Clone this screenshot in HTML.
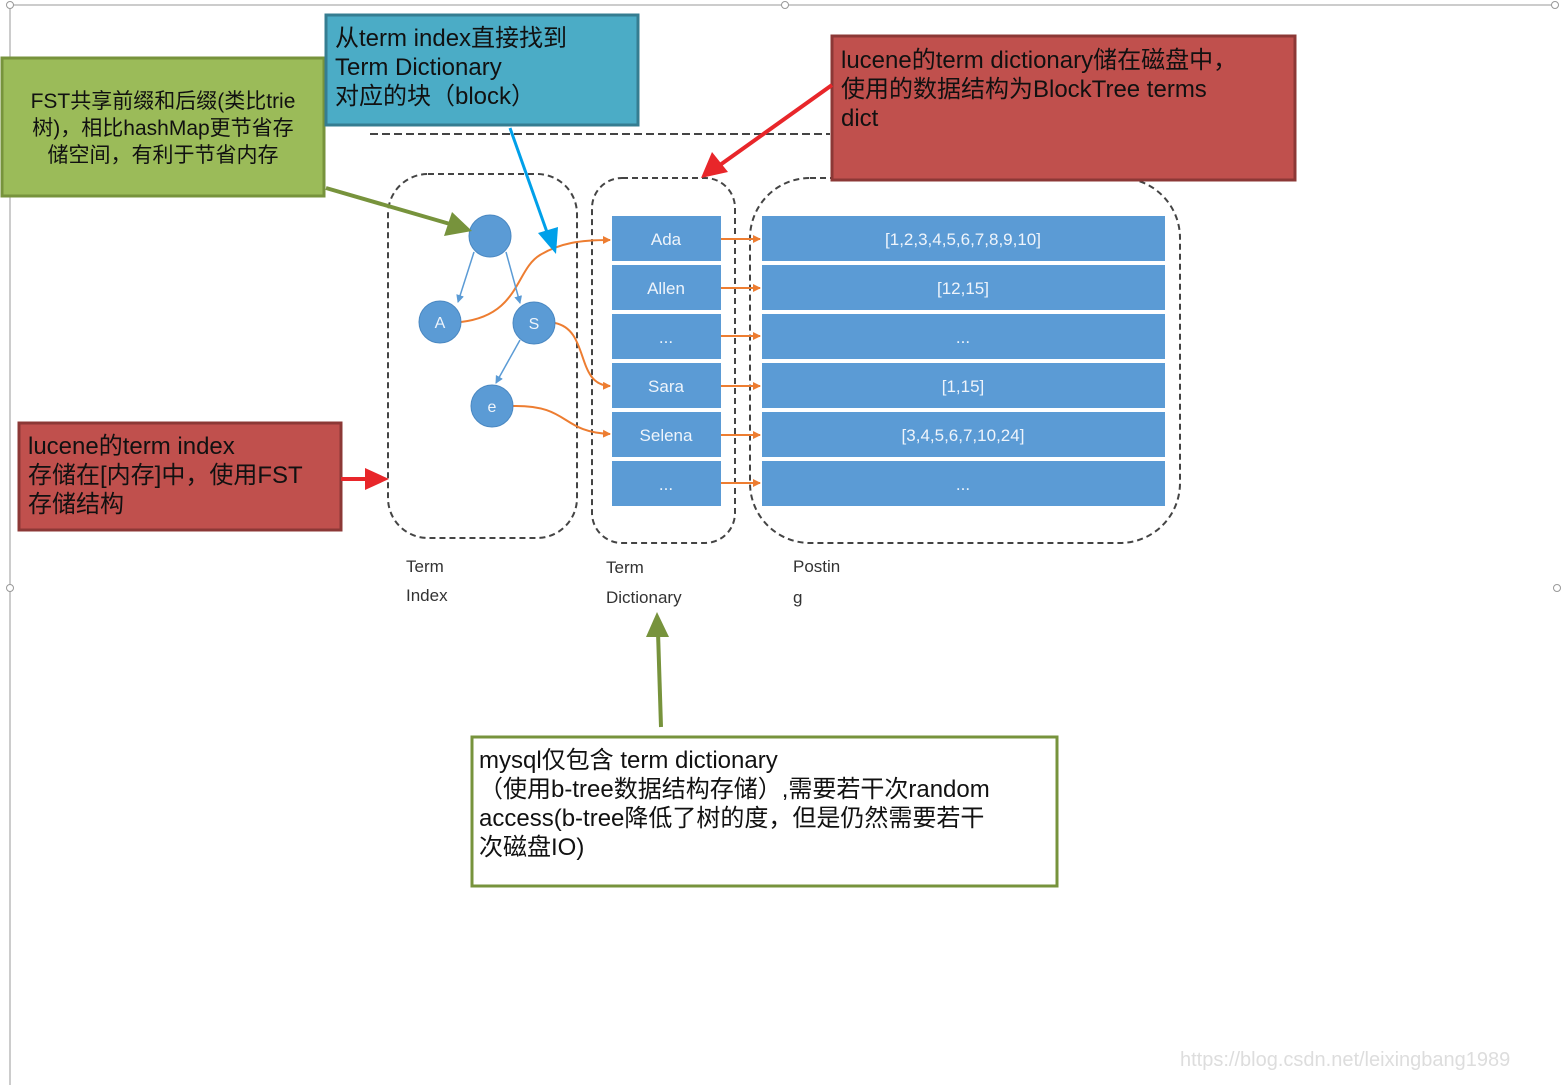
<!DOCTYPE html>
<html><head><meta charset="utf-8"><style>
body{margin:0;background:#fff;}
svg{display:block;}
text{font-family:"Liberation Sans","Noto Sans CJK SC",sans-serif;}
</style></head><body>
<svg width="1561" height="1085" viewBox="0 0 1561 1085" xmlns="http://www.w3.org/2000/svg">
<defs>
<marker id="og" markerWidth="8" markerHeight="8" refX="7" refY="4" orient="auto" markerUnits="userSpaceOnUse"><path d="M0,0 L8,4 L0,8z" fill="#ed7d31"/></marker>
<marker id="bl" markerWidth="8" markerHeight="8" refX="7" refY="4" orient="auto" markerUnits="userSpaceOnUse"><path d="M0,0 L8,4 L0,8z" fill="#5b9bd5"/></marker>
</defs>
<!-- frame -->
<line x1="10" y1="5" x2="1555" y2="5" stroke="#bbb" stroke-width="1.5"/>
<line x1="10" y1="5" x2="10" y2="1085" stroke="#bbb" stroke-width="1.5"/>
<g fill="#fff" stroke="#999"><circle cx="10" cy="5" r="3.5"/><circle cx="785" cy="5" r="3.5"/><circle cx="1555" cy="5" r="3.5"/><circle cx="10" cy="588" r="3.5"/><circle cx="1557" cy="588" r="3.5"/></g>
<line x1="370" y1="134" x2="830" y2="134" stroke="#444" stroke-width="2" stroke-dasharray="8 4"/>
<!-- dashed containers -->
<g fill="none" stroke="#444" stroke-width="2" stroke-dasharray="6 4">
<rect x="388" y="174" width="189" height="364" rx="40"/>
<rect x="592" y="178" width="143" height="365" rx="30"/>
<rect x="750" y="178" width="430" height="365" rx="60"/>
</g>
<!-- cells -->
<g fill="#5b9bd5">
<rect x="612" y="216" width="109" height="45"/><rect x="612" y="265" width="109" height="45"/><rect x="612" y="314" width="109" height="45"/><rect x="612" y="363" width="109" height="45"/><rect x="612" y="412" width="109" height="45"/><rect x="612" y="461" width="109" height="45"/>
<rect x="762" y="216" width="403" height="45"/><rect x="762" y="265" width="403" height="45"/><rect x="762" y="314" width="403" height="45"/><rect x="762" y="363" width="403" height="45"/><rect x="762" y="412" width="403" height="45"/><rect x="762" y="461" width="403" height="45"/>
</g>
<g fill="#eef4fb" font-size="17" text-anchor="middle">
<text x="666" y="245">Ada</text><text x="666" y="294">Allen</text><text x="666" y="343">...</text><text x="666" y="392">Sara</text><text x="666" y="441">Selena</text><text x="666" y="490">...</text>
<text x="963" y="245">[1,2,3,4,5,6,7,8,9,10]</text><text x="963" y="294">[12,15]</text><text x="963" y="343">...</text><text x="963" y="392">[1,15]</text><text x="963" y="441">[3,4,5,6,7,10,24]</text><text x="963" y="490">...</text>
</g>
<g stroke="#ed7d31" stroke-width="2" marker-end="url(#og)" fill="none">
<line x1="721" y1="239" x2="760" y2="239"/><line x1="721" y1="288" x2="760" y2="288"/><line x1="721" y1="336" x2="760" y2="336"/><line x1="721" y1="386" x2="760" y2="386"/><line x1="721" y1="435" x2="760" y2="435"/><line x1="721" y1="483" x2="760" y2="483"/>
<path d="M461,322 C520,315 515,270 540,255 C560,243 580,240 610,240"/>
<path d="M555,323 C590,330 575,385 610,386"/>
<path d="M513,406 C570,405 560,432 610,434"/>
</g>
<!-- tree -->
<g stroke="#5b9bd5" stroke-width="1.5" marker-end="url(#bl)">
<line x1="474" y1="252" x2="458" y2="302"/><line x1="506" y1="252" x2="520" y2="303"/><line x1="520" y1="340" x2="496" y2="383"/>
</g>
<g fill="#5b9bd5" stroke="#4a88c2"><circle cx="490" cy="236" r="21"/><circle cx="440" cy="322" r="21"/><circle cx="534" cy="323" r="21"/><circle cx="492" cy="406" r="21"/></g>
<g fill="#eef4fb" font-size="16" text-anchor="middle"><text x="440" y="328">A</text><text x="534" y="329">S</text><text x="492" y="412">e</text></g>
<!-- labels -->
<g fill="#333" font-size="17"><text x="406" y="572">Term</text><text x="406" y="601">Index</text><text x="606" y="573">Term</text><text x="606" y="603">Dictionary</text><text x="793" y="572">Postin</text><text x="793" y="603">g</text></g>
<!-- boxes -->
<rect x="2" y="58" width="322" height="138" fill="#9bbb59" stroke="#77933c" stroke-width="3"/>
<g font-size="21" fill="#111" text-anchor="middle"><text x="163" y="108">FST共享前缀和后缀(类比trie</text><text x="163" y="135">树)，相比hashMap更节省存</text><text x="163" y="162">储空间，有利于节省内存</text></g>
<rect x="326" y="15" width="312" height="110" fill="#4bacc6" stroke="#357d91" stroke-width="3"/>
<g font-size="24" fill="#111"><text x="335" y="46">从term index直接找到</text><text x="335" y="75">Term Dictionary</text><text x="335" y="104">对应的块（block）</text></g>
<rect x="832" y="36" width="463" height="144" fill="#c0504d" stroke="#8c3836" stroke-width="3"/>
<g font-size="24" fill="#111"><text x="841" y="68">lucene的term dictionary储在磁盘中，</text><text x="841" y="97">使用的数据结构为BlockTree terms</text><text x="841" y="126">dict</text></g>
<rect x="19" y="423" width="322" height="107" fill="#c0504d" stroke="#8c3836" stroke-width="3"/>
<g font-size="24" fill="#111"><text x="28" y="454">lucene的term index</text><text x="28" y="483">存储在[内存]中，使用FST</text><text x="28" y="512">存储结构</text></g>
<rect x="472" y="737" width="585" height="149" fill="#fff" stroke="#77933c" stroke-width="3"/>
<g font-size="24" fill="#111"><text x="479" y="768">mysql仅包含 term dictionary</text><text x="479" y="797">（使用b-tree数据结构存储）,需要若干次random</text><text x="479" y="826">access(b-tree降低了树的度，但是仍然需要若干</text><text x="479" y="855">次磁盘IO)</text></g>
<!-- callout arrows -->
<line x1="326" y1="188" x2="450" y2="224" stroke="#77933c" stroke-width="4"/><path d="M472,231 L444,236 L452,212z" fill="#77933c"/>
<line x1="510" y1="128" x2="548" y2="235" stroke="#00a0e9" stroke-width="3"/><path d="M556,254 L538,233 L558,227z" fill="#00a0e9"/>
<line x1="832" y1="85" x2="720" y2="165" stroke="#e8262a" stroke-width="4"/><path d="M701,178 L712,152 L728,172z" fill="#e8262a"/>
<line x1="341" y1="479" x2="368" y2="479" stroke="#e8262a" stroke-width="4"/><path d="M389,479 L365,468 L365,490z" fill="#e8262a"/>
<line x1="661" y1="727" x2="658" y2="632" stroke="#77933c" stroke-width="4"/><path d="M657,612 L646,637 L669,637z" fill="#77933c"/>
<text x="1180" y="1066" font-size="20" fill="#ddd">https://blog.csdn.net/leixingbang1989</text>
</svg>
</body></html>
